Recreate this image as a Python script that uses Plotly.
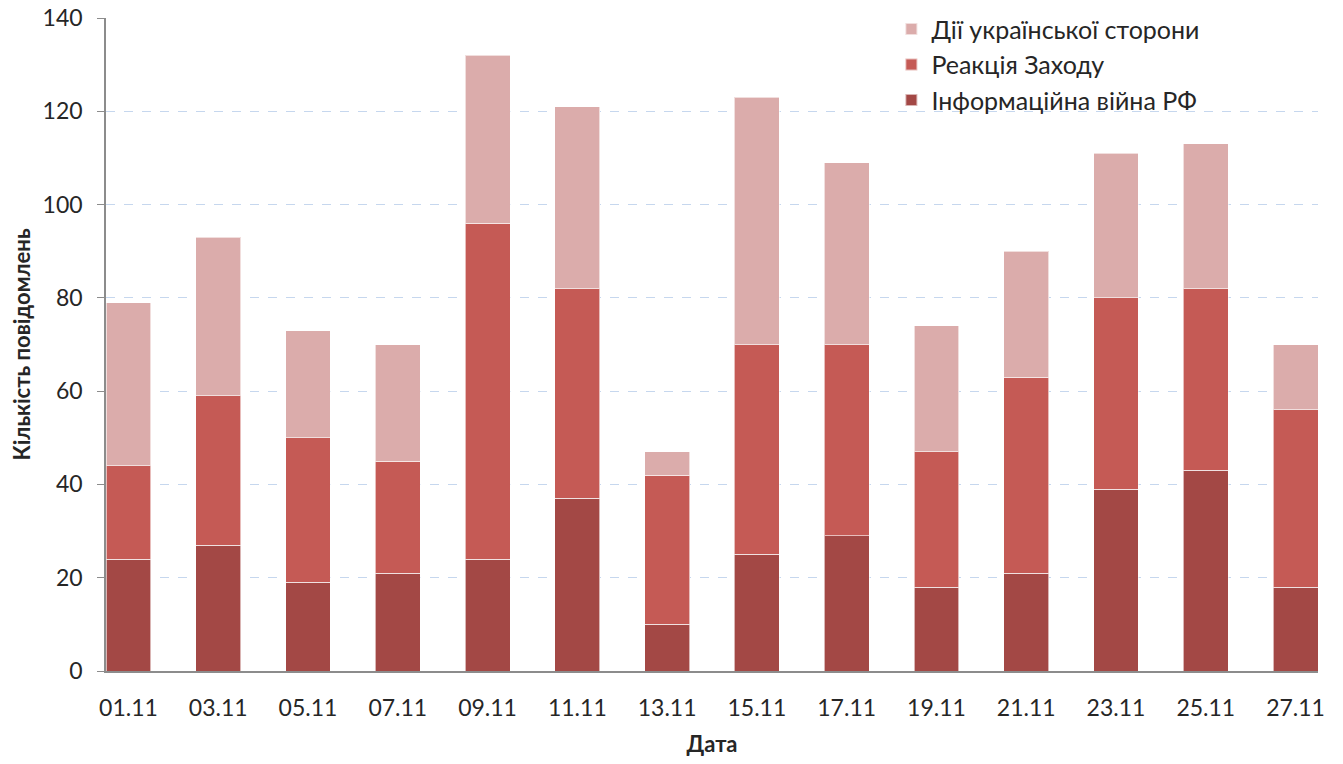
import plotly.graph_objects as go

# Dates (every second day of November)
dates = ["01.11", "03.11", "05.11", "07.11", "09.11", "11.11", "13.11",
         "15.11", "17.11", "19.11", "21.11", "23.11", "25.11", "27.11"]

# Message counts per topic (stacked)
rf_info_war = [24, 27, 19, 21, 24, 37, 10, 25, 29, 18, 21, 39, 43, 18]
west_reaction = [20, 32, 31, 24, 72, 45, 32, 45, 41, 29, 42, 41, 39, 38]
ua_actions = [35, 34, 23, 25, 36, 39, 5, 53, 39, 27, 27, 31, 31, 14]

series = [
    ("Інформаційна війна РФ", rf_info_war, "#A34845"),
    ("Реакція Заходу", west_reaction, "#C55A55"),
    ("Дії української сторони", ua_actions, "#DBACAB"),
]

FONT = "Lato, Calibri, 'Open Sans', sans-serif"
TEXT = "#262626"

fig = go.Figure()
x_idx = list(range(len(dates)))
for name, vals, color in series:
    fig.add_trace(go.Bar(
        x=x_idx, y=vals, name=name, width=0.5,
        marker=dict(color=color, line=dict(color="rgba(255,255,255,0.6)", width=1)),
    ))

fig.update_layout(
    barmode="stack",
    width=1343, height=764,
    margin=dict(l=106, r=25, t=18, b=93, autoexpand=False),
    plot_bgcolor="white", paper_bgcolor="white",
    font=dict(family=FONT, size=22, color=TEXT),
    showlegend=True,
    legend=dict(
        traceorder="reversed",
        x=0.648, y=1.018, xanchor="left", yanchor="top",
        bgcolor="rgba(0,0,0,0)",
        font=dict(size=25, color=TEXT),
        itemsizing="constant",
        tracegroupgap=0,
    ),
    xaxis=dict(
        tickmode="array", tickvals=x_idx, ticktext=dates,
        range=[-0.25, len(dates) - 0.75],
        showline=True, linecolor="#8C8C8C", linewidth=1.5,
        ticks="", showgrid=False, zeroline=False,
        automargin=False,
        ticklabelstandoff=16,
        tickfont=dict(size=23, color=TEXT),
        title=dict(text="<b>Дата</b>", font=dict(size=22, color=TEXT), standoff=16),
    ),
    yaxis=dict(
        range=[0, 140], dtick=20,
        showline=True, linecolor="#8C8C8C", linewidth=1.5,
        ticks="outside", ticklen=7, tickcolor="#8C8C8C",
        showgrid=True, gridcolor="#C6D7EE", griddash="dash", gridwidth=1,
        zeroline=False,
        automargin=False,
        ticklabelstandoff=10,
        tickfont=dict(size=23, color=TEXT),
        title=dict(text="<b>Кількість повідомлень</b>", font=dict(size=22, color=TEXT), standoff=6),
    ),
)

fig.write_html("out.html")
